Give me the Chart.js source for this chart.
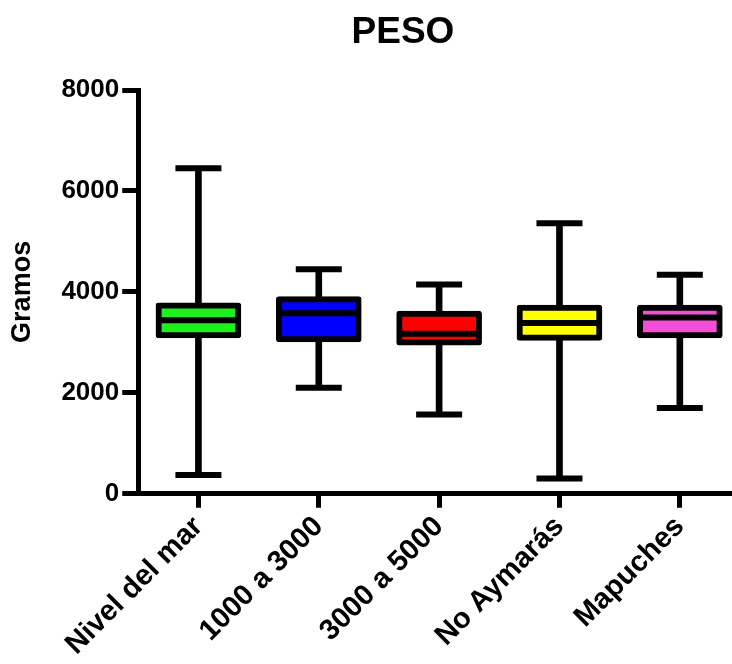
<!DOCTYPE html>
<html lang="es">
<head>
<meta charset="utf-8">
<title>PESO</title>
<script src="https://cdn.jsdelivr.net/npm/chart.js@4"></script>
<style>
  html, body { margin: 0; padding: 0; background: #fff; }
  #wrap { position: relative; width: 732px; height: 664px; overflow: hidden; }
  #pesoChart { position: absolute; left: 0; top: 0; }
  #titulo {
    position: absolute; left: 303px; top: 12px; width: 200px;
    text-align: center; font: bold 37px "Liberation Sans", Arial, sans-serif;
    line-height: 37px; color: #000; z-index: 2;
  }
</style>
</head>
<body>
<div id="wrap">
  <div id="titulo">PESO</div>
  <canvas id="pesoChart" width="740" height="664"></canvas>
</div>
<script>
// Peso al nacer por grupo (gramos): mínimo, cuartiles, mediana y máximo
const categorias = ['Nivel del mar', '1000 a 3000', '3000 a 5000', 'No Aymarás', 'Mapuches'];
const minimos  = [370, 2100, 1570, 300, 1700];
const cuartil1 = [3090, 3010, 2945, 3040, 3090];
const medianas = [3440, 3575, 3170, 3385, 3490];
const cuartil3 = [3785, 3905, 3620, 3740, 3740];
const maximos  = [6450, 4450, 4145, 5360, 4340];
const colores  = ['#1EF01E', '#0000FF', '#FF0000', '#FFFF00', '#F24FD6'];
const yTicks   = [0, 2000, 4000, 6000, 8000];

const fuente = '"Liberation Sans", Arial, sans-serif';

// marca horizontal (mediana o extremo) dibujada como punto tipo 'line'
function marcas(valores, radio, orden) {
    return {
        type: 'line',
        data: valores,
        showLine: false,
        pointStyle: 'line',
        pointRadius: radio,
        pointHoverRadius: radio,
        pointBorderWidth: 6,
        pointBorderColor: '#000',
        order: orden
    };
}

document.addEventListener('DOMContentLoaded', function() {
    const ctx = document.getElementById('pesoChart').getContext('2d');

    new Chart(ctx, {
        type: 'bar',
        data: {
            labels: categorias,
            datasets: [
                marcas(medianas, 38, 0),
                marcas(maximos, 23, 1),
                marcas(minimos, 23, 1),
                // cajas Q1-Q3
                {
                    data: categorias.map((c, i) => [cuartil1[i], cuartil3[i]]),
                    backgroundColor: colores,
                    borderColor: '#000',
                    borderWidth: 6,
                    borderSkipped: false,
                    borderRadius: 3,
                    barThickness: 85,
                    grouped: false,
                    order: 2
                },
                // bigotes mínimo-máximo
                {
                    data: categorias.map((c, i) => [minimos[i], maximos[i]]),
                    backgroundColor: '#000',
                    borderWidth: 0,
                    barThickness: 6,
                    grouped: false,
                    order: 3
                }
            ]
        },
        options: {
            responsive: false,
            animation: false,
            layout: {
                // sin margen extra por el tamaño de los puntos
                autoPadding: false,
                padding: { top: 90, right: 0, bottom: 0, left: 0 }
            },
            scales: {
                x: {
                    offset: true,
                    grid: {
                        offset: false,
                        drawOnChartArea: false,
                        tickLength: 14,
                        tickWidth: 5,
                        tickColor: '#000'
                    },
                    border: { display: true, color: '#000', width: 5 },
                    ticks: {
                        minRotation: 45,
                        maxRotation: 45,
                        padding: 2,
                        color: '#000',
                        font: { family: fuente, size: 29, weight: 'bold' }
                    }
                },
                y: {
                    min: 0,
                    max: 8000,
                    afterBuildTicks: function(scale) {
                        scale.ticks = yTicks.map(v => ({ value: v }));
                    },
                    grid: {
                        drawOnChartArea: false,
                        tickLength: 16,
                        tickWidth: 5,
                        tickColor: '#000'
                    },
                    border: { display: true, color: '#000', width: 5 },
                    ticks: {
                        padding: 3,
                        color: '#000',
                        font: { family: fuente, size: 26, weight: 'bold' },
                        callback: function(value) {
                            return String(value);
                        }
                    },
                    title: {
                        display: true,
                        text: 'Gramos',
                        color: '#000',
                        padding: { top: 6, bottom: 20 },
                        font: { family: fuente, size: 27, weight: 'bold' }
                    }
                }
            },
            plugins: {
                legend: { display: false },
                title: { display: false },
                tooltip: { enabled: false }
            }
        }
    });
});
</script>
</body>
</html>
